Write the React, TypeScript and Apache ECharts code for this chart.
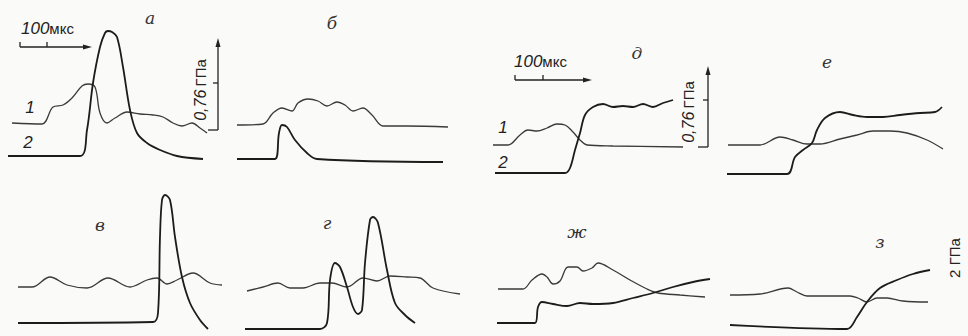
import React, { useEffect, useRef } from "react";
import * as echarts from "echarts";

// Panel identifiers and their captions (Cyrillic letters as in the figure)
const panelNames = ["а", "б", "д", "е", "в", "г", "ж", "з"];

// Traces, local units (time along x, signal along y)
// Panel а
const a1 = [[12,47],[42,46],[53,63],[63,65],[72,72],[82,84],[88,86],[95,83],[100,57],[107,47],[115,52],[127,58],[140,56],[153,55],[163,53],[173,47],[182,44],[192,47],[200,42],[207,37]];
const a2 = [[8,14],[80,14],[87,40],[93,87],[100,123],[105,137],[108,139],[112,138],[117,133],[123,103],[130,60],[137,37],[147,27],[160,20],[177,14],[203,11]];
// Panel б
const b1 = [[7,45],[33,46],[43,57],[52,62],[62,59],[68,67],[78,71],[88,69],[97,64],[107,68],[115,65],[123,59],[133,62],[142,55],[153,44],[177,44],[218,43]];
const b2 = [[7,11],[45,11],[49,37],[52,45],[57,43],[65,30],[77,17],[87,11],[213,8]];
// Panel д
const d1 = [[13,35],[28,35],[40,45],[48,50],[57,49],[67,52],[77,56],[85,55],[93,48],[100,40],[107,35],[133,34],[203,33]];
const d2 = [[15,7],[85,7],[90,12],[95,30],[100,47],[105,65],[113,73],[123,76],[133,73],[143,74],[153,73],[163,76],[173,73],[183,77],[193,80]];
// Panel е
const e1 = [[8,35],[40,35],[60,43],[73,40],[87,36],[100,36],[120,41],[137,45],[153,49],[170,49],[187,47],[207,40],[223,31]];
const e2 = [[7,6],[67,6],[75,23],[83,30],[92,37],[97,50],[105,62],[120,68],[133,65],[147,63],[163,63],[180,65],[200,67],[215,68],[222,73]];
// Panel в
const v1 = [[18,49],[32,49],[50,59],[67,51],[87,48],[108,58],[130,49],[147,56],[157,58],[167,52],[177,56],[193,63],[210,53],[222,51]];
const v2 = [[18,13],[153,14],[158,23],[160,99],[162,136],[165,141],[170,136],[175,99],[182,59],[190,33],[200,16],[208,7]];
// Panel г
const g1 = [[17,45],[33,49],[48,53],[60,48],[73,48],[90,53],[102,53],[117,49],[133,58],[147,55],[160,60],[177,59],[190,58],[203,48],[230,42]];
const g2 = [[15,7],[90,7],[97,13],[100,56],[105,73],[110,69],[117,49],[123,29],[128,22],[132,26],[135,73],[140,116],[143,119],[148,113],[157,66],[165,33],[175,21],[185,13]];
// Panel ж
const zh1 = [[18,47],[43,47],[52,56],[62,62],[67,59],[73,52],[80,55],[88,69],[97,69],[103,65],[112,68],[118,73],[133,66],[150,56],[167,47],[178,43],[200,41],[225,39]];
const zh2 = [[17,13],[55,13],[58,29],[62,34],[73,32],[87,30],[100,33],[113,32],[133,33],[153,38],[173,43],[193,49],[213,54],[230,57]];
// Panel з
const z1 = [[10,41],[40,42],[68,48],[77,44],[87,40],[107,40],[130,40],[138,38],[147,34],[157,38],[167,38],[183,35],[208,34]];
const z2 = [[10,11],[127,7],[137,19],[147,34],[160,48],[177,56],[193,62],[210,66]];

const traces1 = [a1, b1, d1, e1, v1, g1, zh1, z1];
const traces2 = [a2, b2, d2, e2, v2, g2, zh2, z2];

// Text labels
const scaleText = "100";
const scaleUnit = "мкс";
const pressureValue = "0,76";
const pressureUnit = "ГПа";
const pressureLabel2 = "2 ГПа";
const curveLabels = ["1", "2"];

// Layout of panels (left, top, width, height)
const layout = [
  [0, 0, 240, 170],
  [230, 0, 240, 170],
  [480, 0, 240, 180],
  [720, 0, 240, 180],
  [0, 170, 240, 166],
  [230, 170, 240, 166],
  [480, 180, 240, 156],
  [720, 180, 248, 156],
];
const captionPos = [[150,18],[332,23],[637,53],[827,62],[100,225],[327,223],[577,232],[880,242]];

export default function App() {
  const ref = useRef<HTMLDivElement>(null);
  useEffect(() => {
    if (!ref.current) return;
    const chart = echarts.init(ref.current, null, { renderer: "svg" });
    const grid = layout.map(([l, t, w, h]) => ({ left: l, top: t, width: w, height: h }));
    const xAxis = layout.map((p, i) => ({ type: "value", gridIndex: i, min: 0, max: p[2], show: false }));
    const yAxis = layout.map((p, i) => ({ type: "value", gridIndex: i, min: 0, max: p[3], show: false }));
    const series: any[] = [];
    for (let i = 0; i < layout.length; i++) {
      series.push({
        type: "line", xAxisIndex: i, yAxisIndex: i, data: traces1[i], smooth: 0.35,
        showSymbol: false, clip: false, lineStyle: { color: "#3a3a3a", width: 1.3 },
      });
      series.push({
        type: "line", xAxisIndex: i, yAxisIndex: i, data: traces2[i], smooth: 0.35,
        showSymbol: false, clip: false, lineStyle: { color: "#1c1c1c", width: 1.8 },
      });
    }
    const ink = "#222";
    const ls = { stroke: ink, lineWidth: 1.3 };
    const graphic: any[] = [];
    captionPos.forEach(([x, y], i) => {
      graphic.push({
        type: "text", x, y,
        style: { text: panelNames[i], fill: "#333", font: "italic 17px 'DejaVu Serif'", align: "center", verticalAlign: "middle" },
      });
    });
    // scale bars
    const bars = [[20, 47, 88, 27, 21], [515, 80, 588, 28, 514]];
    bars.forEach(([x0, y, x1, dx, tx]) => {
      graphic.push({ type: "line", shape: { x1: x0, y1: y, x2: x1, y2: y }, style: ls });
      graphic.push({ type: "line", shape: { x1: x0, y1: y - 5, x2: x0, y2: y }, style: ls });
      graphic.push({ type: "line", shape: { x1: x0 + dx, y1: y - 5, x2: x0 + dx, y2: y }, style: ls });
      graphic.push({ type: "polygon", shape: { points: [[x1 + 4, y], [x1 - 5, y - 2.5], [x1 - 5, y + 2.5]] }, style: { fill: ink } });
      graphic.push({
        type: "text", x: tx, y: y - 19,
        style: {
          text: "{i|" + scaleText + "}{n|" + scaleUnit + "}", verticalAlign: "middle",
          rich: {
            i: { font: "italic 17px 'Liberation Sans'", fill: ink },
            n: { font: "15px 'Liberation Sans'", fill: ink },
          },
        },
      });
    });
    // vertical pressure arrows
    const arrows = [[218, 130, 38, 83, 200, 90], [708, 147, 66, 100, 688, 112]];
    arrows.forEach(([x, yb, yt, ytk, tx, ty]) => {
      graphic.push({ type: "line", shape: { x1: x, y1: yb, x2: x, y2: yt + 8 }, style: ls });
      graphic.push({ type: "line", shape: { x1: x - 10, y1: yb, x2: x, y2: yb }, style: ls });
      graphic.push({ type: "line", shape: { x1: x - 5, y1: ytk, x2: x, y2: ytk }, style: ls });
      graphic.push({ type: "polygon", shape: { points: [[x, yt], [x - 2.5, yt + 9], [x + 2.5, yt + 9]] }, style: { fill: ink } });
      graphic.push({
        type: "text", x: tx, y: ty, rotation: Math.PI / 2,
        style: {
          text: "{i|" + pressureValue + "} {n|" + pressureUnit + "}", align: "center", verticalAlign: "middle",
          rich: {
            i: { font: "italic 16px 'Liberation Sans'", fill: ink },
            n: { font: "15px 'Liberation Sans'", fill: ink },
          },
        },
      });
    });
    graphic.push({
      type: "text", x: 954, y: 258, rotation: Math.PI / 2,
      style: { text: pressureLabel2, font: "15px 'Liberation Sans'", fill: ink, align: "center", verticalAlign: "middle" },
    });
    // curve numbers
    [[30, 107, 0], [28, 142, 1], [503, 127, 0], [503, 162, 1]].forEach(([x, y, k]) => {
      graphic.push({
        type: "text", x, y,
        style: { text: curveLabels[k], font: "italic 17px 'Liberation Sans'", fill: ink, align: "center", verticalAlign: "middle" },
      });
    });
    chart.setOption({ animation: false, backgroundColor: "#fafaf8", grid, xAxis, yAxis, series, graphic });
    return () => chart.dispose();
  }, []);
  return <div ref={ref} style={{ position: "absolute", left: 0, top: 0, width: 968, height: 336 }} />;
}
